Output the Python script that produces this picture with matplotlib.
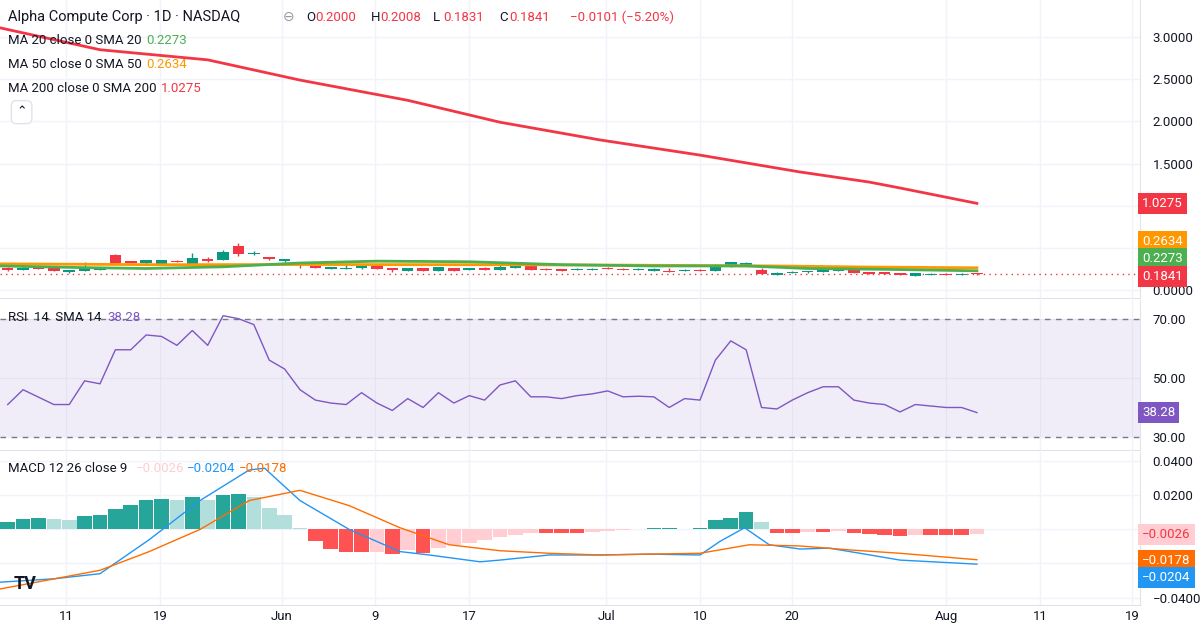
import numpy as np
import matplotlib as mpl
import matplotlib.pyplot as plt

mpl.use('Agg')
plt.rcParams['font.family'] = ['Roboto', 'DejaVu Sans']

# ---- data ----
opens = [.265,.241,.269,.265,.214,.229,.241,.415,.344,.324,.300,.344,.312,.368,.360,.522,.427,.391,.344,.332,
         .285,.253,.253,.265,.285,.261,.229,.261,.229,.261,.241,.261,.241,.265,.285,.249,.249,.241,.241,.265,
         .253,.241,.229,.229,.229,.241,.229,.273,.285,.237,.182,.206,.217,.217,.229,.249,.214,.214,.202,.170,
         .182,.194,.182,.2000]
closes = [.233,.265,.253,.229,.233,.273,.265,.324,.320,.356,.356,.332,.380,.344,.451,.431,.439,.372,.368,.297,
          .265,.273,.261,.285,.253,.241,.261,.229,.273,.229,.261,.241,.273,.285,.241,.241,.229,.253,.253,.253,
          .241,.253,.253,.217,.241,.229,.289,.332,.320,.194,.206,.217,.229,.241,.241,.206,.194,.194,.182,.202,
          .194,.182,.194,.1841]
highs = [.268,.268,.271,.267,.235,.328,.267,.427,.346,.358,.358,.356,.439,.391,.475,.557,.463,.393,.370,.334,
         .287,.275,.312,.287,.287,.263,.263,.263,.275,.263,.263,.273,.312,.300,.287,.261,.251,.255,.255,.267,
         .255,.255,.255,.265,.243,.243,.312,.334,.332,.265,.208,.229,.231,.249,.253,.251,.216,.216,.204,.204,
         .206,.196,.206,.2008]
lows = [.230,.238,.251,.227,.202,.227,.239,.312,.318,.300,.298,.330,.310,.332,.358,.403,.415,.360,.332,.265,
        .263,.251,.251,.253,.251,.217,.227,.227,.227,.227,.239,.239,.239,.263,.239,.239,.227,.239,.239,.251,
        .239,.239,.227,.215,.227,.227,.227,.271,.283,.192,.180,.204,.206,.215,.227,.204,.192,.192,.180,.168,
        .180,.180,.180,.1831]

sma200_x = [-0.5, 6, 13, 19, 26, 32, 38.5, 45, 51.5, 56, 58, 63]
sma200_y = [3.11, 2.85, 2.73, 2.49, 2.25, 1.99, 1.78, 1.60, 1.40, 1.28, 1.21, 1.0275]
sma50_x = [-0.5, 10, 20, 30, 40, 50, 56, 63]
sma50_y = [0.31, 0.30, 0.302, 0.30, 0.295, 0.285, 0.272, 0.2634]
sma20_x = [-0.5, 5, 9, 14, 19, 24, 30, 36, 42, 48, 52, 57, 63]
sma20_y = [0.285, 0.265, 0.255, 0.275, 0.320, 0.342, 0.335, 0.300, 0.285, 0.285, 0.255, 0.245, 0.2273]

rsi = [41,46,43.5,41,41,49,48,59.5,59.5,64.5,64,61,66,61,71,70,68,56,53,46,42.5,41.5,41,45,41.5,39,43,40,45,41.5,
       44,42.5,47.6,49,43.6,43.6,43,44,44.6,45.6,43.6,43.8,43.6,40,43,42.5,56,62.5,59.5,40,39.5,42.5,45,47,47,42.5,
       41.5,41,38.5,41,40.5,40,40,38.28]

hist = [.0044,.006,.0068,.006,.0056,.008,.0085,.012,.0144,.0174,.018,.0174,.019,.0174,.0203,.021,.019,.0126,.0085,.001,
        -.0068,-.0115,-.0132,-.0132,-.013,-.0144,-.012,-.0138,-.011,-.009,-.008,-.006,-.0044,-.0032,-.002,-.002,-.002,-.002,
        -.0015,-.001,-.0003,.0003,.001,.001,.0005,.001,.0056,.0068,.0103,.0044,
        -.002,-.002,-.0015,-.0015,-.001,-.002,-.0026,-.0032,-.0038,-.0032,-.0032,-.0032,-.0032,-.0026]
macd_x = [-0.5,3,6,9.2,12.5,15.7,16.7,19,22.2,25.5,27.4,30.7,32,35.2,38.5,41.7,45,46.3,47.9,49.5,51.5,53.4,55.4,58,63]
macd_y = [-.031,-.029,-.026,-.006,.017,.035,.036,.017,0,-.013,-.015,-.019,-.018,-.015,-.015,-.0145,-.015,-.007,.001,
          -.009,-.0115,-.011,-.014,-.018,-.0204]
sig_x = [-0.5,6,9.2,12.5,15.7,19,22.2,25.5,28.7,32,35.2,38.5,45,48.2,51.5,54.7,58,63]
sig_y = [-.035,-.024,-.013,0,.017,.023,.014,.001,-.009,-.0125,-.014,-.015,-.014,-.009,-.0097,-.012,-.014,-.0178]

xtick_pos = [3.79, 9.9, 17.8, 23.9, 30.0, 38.9, 45.0, 51.0, 61.0, 67.1, 73.1]
xtick_lab = ['11', '19', 'Jun', '9', '17', 'Jul', '10', '20', 'Aug', '11', '19']

UP, DN = '#089981', '#f23645'
TXT = '#131722'
GRID = '#f0f3fa'
XL = (-0.5, 73.6)
FS = 9.5

fig = plt.figure(figsize=(12, 6.3), dpi=100)
ax1 = fig.add_axes([0, 0.527, 0.95, 0.473])
ax2 = fig.add_axes([0, 0.286, 0.95, 0.238])
ax3 = fig.add_axes([0, 0.0397, 0.95, 0.243])

for ax in (ax1, ax2, ax3):
    ax.set_xlim(*XL)
    ax.yaxis.tick_right()
    ax.tick_params(axis='y', length=0, labelsize=FS, labelcolor=TXT, pad=9)
    ax.tick_params(axis='x', length=0)
    ax.set_xticks(xtick_pos)
    ax.grid(True, color=GRID, lw=1)
    ax.set_axisbelow(True)
    for s in ax.spines.values():
        s.set_visible(False)
    ax.spines['bottom'].set_visible(True)
    ax.spines['bottom'].set_color('#e0e3eb')
    ax.spines['right'].set_visible(True)
    ax.spines['right'].set_color('#e0e3eb')
ax1.set_xticklabels([])
ax2.set_xticklabels([])
ax3.set_xticklabels(xtick_lab, fontsize=FS, color=TXT)

# ---- price pane ----
ax1.set_ylim(-0.095, 3.44)
ax1.set_yticks([0, 0.5, 1.0, 1.5, 2.0, 2.5, 3.0])
# 0.5 and 1.0 sit under the value tags
ax1.set_yticklabels(['0.0000', '', '', '1.5000', '2.0000', '2.5000', '3.0000'])
for i, (o, h, l, c) in enumerate(zip(opens, highs, lows, closes)):
    col = UP if c >= o else DN
    ax1.vlines(i, l, h, color=col, lw=1, zorder=3)
    ax1.bar(i, max(abs(c - o), 0.004), bottom=min(o, c), width=0.75, color=col, zorder=3)
ax1.plot(sma200_x, sma200_y, color='#f23645', lw=2, zorder=4)
ax1.plot(sma50_x, sma50_y, color='#ff9800', lw=2, zorder=4)
ax1.plot(sma20_x, sma20_y, color='#4caf50', lw=2, zorder=4)
ax1.axhline(closes[-1], color=DN, lw=1, ls=(0, (1, 3)), zorder=2)

fig.text(0.007, 0.973, 'Alpha Compute Corp · 1D · NASDAQ', fontsize=10.5, color=TXT, va='center')
fig.text(0.236, 0.973, '⊖', fontsize=10, color='#9598a1', va='center', family=['DejaVu Sans'])
ohlc = [('O', '0.2000', 0.255), ('H', '0.2008', 0.309), ('L', '0.1831', 0.361), ('C', '0.1841', 0.416)]
for k, v, xo in ohlc:
    fig.text(xo, 0.973, k, fontsize=FS, color=TXT, va='center')
    fig.text(xo + 0.008, 0.973, v, fontsize=FS, color=DN, va='center')
fig.text(0.475, 0.973, '−0.0101 (−5.20%)', fontsize=FS, color=DN, va='center')
legs = [('MA 20 close 0 SMA 20', '0.2273', '#4caf50', 0.122),
        ('MA 50 close 0 SMA 50', '0.2634', '#ff9800', 0.122),
        ('MA 200 close 0 SMA 200', '1.0275', '#f23645', 0.134)]
for j, (t, v, c, xv) in enumerate(legs):
    y = 0.936 - j * 0.038
    fig.text(0.007, y, t, fontsize=FS, color=TXT, va='center')
    fig.text(xv, y, v, fontsize=FS, color=c, va='center')
fig.text(0.018, 0.822, '⌃', fontsize=9, color=TXT, va='center', ha='center', family=['DejaVu Sans'],
         bbox=dict(boxstyle='round,pad=0.4', fc='white', ec='#e0e3eb'))

def tag(ax, y, txt, col, tcol='white'):
    ax.text(1.002, y, txt, transform=ax.get_yaxis_transform(), fontsize=FS, color=tcol,
            va='center', ha='left', zorder=10,
            bbox=dict(boxstyle='square,pad=0.3', fc=col, ec='none'))

tag(ax1, 1.0275, '1.0275', '#f23645')
tag(ax1, 0.57, '0.2634', '#ff9800')
tag(ax1, 0.37, '0.2273', '#4caf50')
tag(ax1, 0.165, '0.1841', '#f23645')

# ---- RSI pane ----
ax2.set_ylim(25.7, 76.35)
ax2.set_yticks([30, 50, 70])
ax2.set_yticklabels(['30.00', '50.00', '70.00'])
ax2.axhspan(30, 70, color='#7e57c2', alpha=0.1, lw=0)
ax2.axhline(70, color='#787b86', lw=1, ls=(0, (4, 4)))
ax2.axhline(30, color='#787b86', lw=1, ls=(0, (4, 4)))
ax2.plot(np.arange(len(rsi)), rsi, color='#7e57c2', lw=1)
ax2.text(0.007, 0.88, 'RSI  14  SMA 14', transform=ax2.transAxes, fontsize=FS, color=TXT, va='center')
ax2.text(0.094, 0.88, '38.28', transform=ax2.transAxes, fontsize=FS, color='#7e57c2', va='center')
tag(ax2, 38.28, '38.28', '#7e57c2')

# ---- MACD pane ----
ax3.set_ylim(-0.0444, 0.0456)
ax3.set_yticks([-0.04, -0.02, 0, 0.02, 0.04])
ax3.set_yticklabels(['−0.0400', '', '', '0.0200', '0.0400'])
cols = []
for i, v in enumerate(hist):
    prev = hist[i - 1] if i > 0 else v
    if v >= 0:
        cols.append('#26a69a' if v >= prev else '#b2dfdb')
    else:
        cols.append('#ff5252' if v <= prev else '#ffcdd2')
ax3.bar(np.arange(len(hist)), hist, width=0.95, color=cols, zorder=2)
ax3.plot(macd_x, macd_y, color='#2196f3', lw=1, zorder=3)
ax3.plot(sig_x, sig_y, color='#ff6d00', lw=1, zorder=3)
ax3.text(0.007, 0.89, 'MACD 12 26 close 9', transform=ax3.transAxes, fontsize=FS, color=TXT, va='center')
ax3.text(0.119, 0.89, '−0.0026', transform=ax3.transAxes, fontsize=FS, color='#ffcdd2', va='center')
ax3.text(0.164, 0.89, '−0.0204', transform=ax3.transAxes, fontsize=FS, color='#2196f3', va='center')
ax3.text(0.210, 0.89, '−0.0178', transform=ax3.transAxes, fontsize=FS, color='#ff6d00', va='center')
tag(ax3, -0.0030, '−0.0026', '#ffcdd2', '#f23645')
tag(ax3, -0.0180, '−0.0178', '#ff6d00')
tag(ax3, -0.0280, '−0.0204', '#2196f3')
ax3.text(0.012, 0.14, 'TV', transform=ax3.transAxes, fontsize=13, fontweight='bold', color=TXT, va='center')

fig.savefig('out.png', dpi=100, facecolor='white')
